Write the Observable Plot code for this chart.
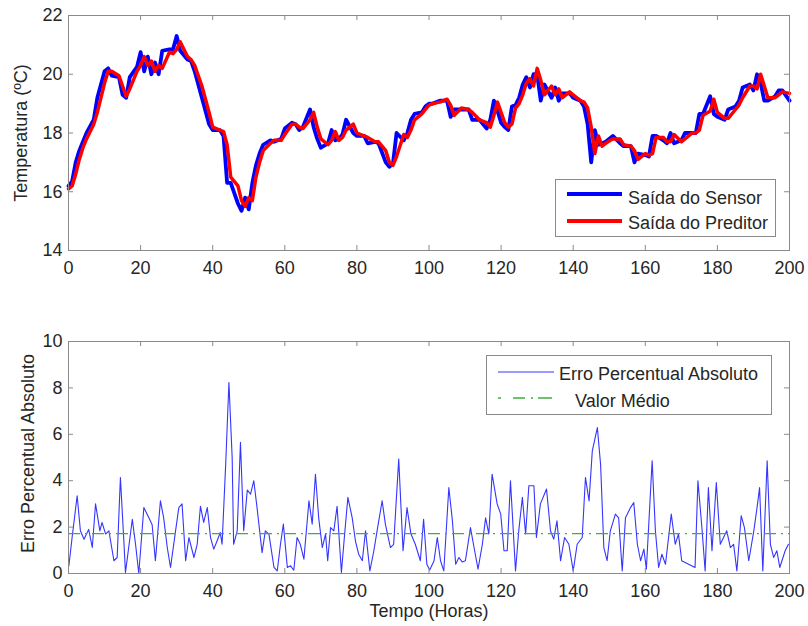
<!DOCTYPE html>
<html>
<head>
<meta charset="utf-8">
<script src="https://cdn.jsdelivr.net/npm/d3@7"></script>
<script src="https://cdn.jsdelivr.net/npm/@observablehq/plot@0.6"></script>
<style>
  html, body { margin: 0; padding: 0; background: #fff; }
  #wrap { position: relative; width: 808px; height: 626px; font-family: "Liberation Sans", Arial, sans-serif; color: #262626; }
  #wrap svg { display: block; }
  .legend { position: absolute; background: #fff; border: 1px solid #8a8a8a; box-sizing: border-box; }
  .legend .txt { position: absolute; font-size: 18px; line-height: 20px; white-space: nowrap; color: #262626; }
  .legend .sw { position: absolute; }
</style>
</head>
<body>
<div id="wrap"></div>
<script>
// ---------------- data ----------------
const sensorHours = [0,1,2,3,4,5,7,8,10,11,12,14,15,16,17,19,20,21,22,23,24,25,26,28,29,30,31,33,34,35,37,39,40,42,43,44,45,47,48,49,50,51,52,53,54,56,57,59,60,62,63,64,65,67,68,69,70,72,73,74,75,76,77,79,80,82,83,85,86,88,89,90,91,93,94,95,96,98,99,100,101,103,105,106,107,109,111,112,114,116,117,118,119,120,121,122,123,124,125,126,127,128,129,130,131,132,134,135,136,137,139,140,142,143,144,145,146,147,148,149,151,153,154,156,157,158,160,161,162,163,165,166,167,168,170,171,173,174,175,176,178,179,180,182,183,185,186,187,189,190,191,192,193,194,196,197,198,200];
const sensorTemp = [16.2,16.35,17.0,17.4,17.7,18.0,18.45,19.2,20.1,20.2,19.95,19.9,19.3,19.2,19.9,20.25,20.75,20.1,20.6,20.0,20.4,20.0,20.8,20.85,20.85,21.3,20.8,20.5,20.45,20.1,19.2,18.3,18.1,18.1,17.9,16.3,16.3,15.6,15.35,15.8,15.4,16.3,16.9,17.3,17.6,17.75,17.7,17.8,18.15,18.35,18.3,18.1,18.2,18.8,18.2,17.8,17.5,17.65,18.1,17.75,17.8,17.95,18.45,18.0,17.9,17.9,17.65,17.7,17.65,17.0,16.85,16.95,18.0,17.75,18.0,18.45,18.65,18.7,18.9,19.0,19.0,19.1,19.1,18.55,18.8,18.8,18.8,18.45,18.45,18.15,18.45,19.1,18.75,18.35,18.2,18.1,18.9,18.95,19.2,19.65,19.9,19.55,20.0,20.0,19.1,19.65,19.2,19.55,19.1,19.35,19.35,19.2,19.1,18.9,18.3,17.0,18.1,17.6,17.65,17.7,17.9,17.65,17.55,17.55,17.0,17.3,17.25,17.2,17.9,17.9,17.75,17.65,18.0,17.65,17.75,18.0,18.0,18.0,18.65,18.65,19.25,18.65,18.55,18.45,18.8,18.9,19.1,19.55,19.65,19.45,20.0,19.7,19.1,19.1,19.25,19.45,19.45,19.1];
const predictorTemp = [16.1,16.2,16.6,17.1,17.5,17.8,18.3,18.7,19.7,20.1,20.1,19.95,19.6,19.25,19.5,20.1,20.3,20.6,20.3,20.45,20.1,20.3,20.2,20.75,20.7,20.85,21.1,20.6,20.5,20.3,19.6,18.7,18.2,18.1,18.05,17.6,16.5,16.2,15.7,15.5,15.8,15.7,16.5,17.0,17.4,17.65,17.75,17.75,17.95,18.3,18.3,18.2,18.15,18.45,18.7,18.2,17.8,17.6,17.75,18.05,17.75,17.85,18.1,18.3,18.0,17.9,17.85,17.7,17.7,17.4,17.0,16.9,17.2,17.95,17.85,18.1,18.45,18.65,18.8,18.95,19.0,19.05,19.15,18.95,18.6,18.85,18.8,18.7,18.45,18.35,18.2,18.6,19.05,18.7,18.35,18.2,18.3,18.85,19.0,19.3,19.7,19.85,19.6,20.2,19.8,19.3,19.6,19.3,19.5,19.2,19.4,19.3,19.1,19.05,18.85,18.2,17.3,17.9,17.55,17.65,17.8,17.8,17.6,17.55,17.4,17.1,17.3,17.25,17.3,17.85,17.85,17.7,17.7,17.95,17.7,17.8,18.0,18.0,18.1,18.6,18.75,19.15,18.7,18.5,18.5,18.8,18.95,19.2,19.6,19.6,19.5,20.0,19.6,19.2,19.2,19.3,19.4,19.35];

const errorHours = [0.1,1,2.4,3.3,4.3,5.2,5.6,6.6,7.5,8.7,9.3,10.3,11.2,12.6,13.5,14.4,15.3,15.8,16.7,17.7,18.6,19.5,20.9,22.3,23.2,24.1,25.5,26.4,27.4,28.3,29.7,30.6,31.5,32.5,33.4,34.8,35.7,36.6,37.5,38.5,39.4,40.3,41.2,42.1,42.6,43.6,44.5,45.4,45.8,46.8,47.7,48.6,49.6,50.5,51.4,52.3,53.7,54.6,55.6,57,57.9,58.8,59.6,60.7,61.6,62.5,63.4,64.3,65.3,66.7,67.6,68.5,69.4,70.4,71.3,71.9,72.7,73.6,74.5,75.7,76.6,77.5,78.7,79.6,80.5,81.5,82.4,83.6,84.7,85.6,87,87.9,89.3,90.2,91.6,92.8,93.9,95,96.2,97.6,98.5,99.4,100.2,101.4,102.3,103.2,104.1,105.5,106.5,107.4,108.3,109.2,110.1,111.5,112.5,113.6,114.8,115.7,116.6,117.5,118.9,119.9,120.8,121.7,122.6,124,124.9,125.9,126.8,127.7,129.1,129.8,130.9,132.6,133.7,134.6,135.5,136.5,137.6,138.8,140,141.1,142.5,143.4,144.4,145.3,146.7,147.6,148.5,149.4,150.3,151.7,152.6,153.6,154.5,155.9,156.8,157.8,158.7,159.6,160.3,161.9,162.8,163.7,164.6,165.6,167.2,168.3,169.2,170.1,172,173.8,174.6,175.7,176.6,177.5,178.5,179.7,180.8,181.7,182.6,183.6,184.5,185.4,186.6,187.5,188.7,190.1,191,191.7,192.6,193.8,194.7,195.6,196.5,197.3,198.8,199.7];
const errorValues = [0.33,1.55,3.35,1.84,1.48,1.77,1.9,1.12,3.0,1.84,2.2,1.7,1.84,0.55,0.69,4.14,1.55,0.04,1.12,2.34,1.26,0,2.84,2.4,2.1,0.55,3.13,2.4,1.12,0.26,1.84,2.84,3.0,0.55,1.55,0.69,1.26,2.9,2.2,2.84,1.55,1.05,1.4,1.77,1.26,4.7,8.23,5.0,1.26,1.84,5.65,1.84,3.6,3.42,4.0,2.84,0.9,1.84,1.7,0.26,0.11,1.26,2.13,0.26,0.33,0.14,1.55,1.26,0.62,3.13,2.13,4.28,2.4,1.12,1.7,0.55,1.98,1.84,2.9,0.04,1.7,3.28,2.4,1.4,0.83,0.55,1.84,0.11,0.98,1.84,3.13,2.13,1.12,1.26,4.93,0.98,2.84,1.7,1.26,0.55,2.34,0.4,0.15,0.55,1.55,0.55,0.11,3.7,2.27,0.4,0.69,0.5,0.55,1.98,1.12,0.19,1.26,2.4,1.7,4.28,3.0,2.56,0.98,0.98,4.0,0.11,1.84,3.28,1.7,3.78,3.78,1.55,3.0,3.64,1.84,1.48,2.27,0.55,1.55,1.26,0.11,1.26,1.55,4.14,3.13,5.29,6.29,4.7,1.12,0.55,1.84,2.56,2.4,0.11,2.4,2.84,3.06,1.26,0.55,1.05,0.19,4.86,1.84,0.26,0.83,0.4,2.56,1.26,1.7,0.55,0.4,0.26,4.0,1.98,0.11,3.7,0.98,3.92,1.26,1.55,1.84,1.12,1.26,0.11,2.49,1.98,0.55,1.84,2.84,3.7,0.11,4.86,1.26,0.69,0.98,0.26,0.98,1.26];
const meanError = 1.72;

const xTicks = [0,20,40,60,80,100,120,140,160,180,200];
const tempTicks = [14,16,18,20,22];
const errorTicks = [0,2,4,6,8,10];

const seriesNames = ["Saída do Sensor", "Saída do Preditor"];
const errorNames = ["Erro Percentual Absoluto", "Valor Médio"];
const yLabelTop = "Temperatura (ºC)";
const yLabelBottom = "Erro Percentual Absoluto";
const xLabel = "Tempo (Horas)";

// ---------------- build ----------------
const sensorRows = sensorHours.map((h, i) => ({h, t: sensorTemp[i]}));
const predRows = sensorHours.map((h, i) => ({h, t: predictorTemp[i]}));
const errRows = errorHours.map((h, i) => ({h, e: errorValues[i]}));

const FONT = "'Liberation Sans', Arial, Helvetica, sans-serif";
const AX = "#8a8a8a";
const TXT = "#262626";
const GREEN = "#3fae3f";
const W = 808, ML = 68, MR = 19;
const PW = W - ML - MR;

function boxTicks(ticksX, ticksY, ph) {
  return [
    Plot.ruleX(ticksX, {stroke: AX, insetTop: ph - 5}),
    Plot.ruleX(ticksX, {stroke: AX, insetBottom: ph - 5}),
    Plot.ruleY(ticksY, {stroke: AX, insetRight: PW - 5}),
    Plot.ruleY(ticksY, {stroke: AX, insetLeft: PW - 5}),
    Plot.frame({stroke: AX}),
    Plot.axisX({ticks: ticksX, tickSize: 0, tickPadding: 11, label: null, fill: TXT}),
    Plot.axisY({ticks: ticksY, tickSize: 0, tickPadding: 6, label: null, fill: TXT})
  ];
}

const topChart = Plot.plot({
  width: W, height: 300,
  marginLeft: ML, marginRight: MR, marginTop: 15, marginBottom: 50,
  x: {domain: [0, 200]},
  y: {domain: [14, 22]},
  style: {fontFamily: FONT, fontSize: "18px", color: TXT, background: "white", overflow: "visible"},
  marks: [
    Plot.line(sensorRows, {x: "h", y: "t", stroke: "#0000ff", strokeWidth: 3.8}),
    Plot.line(predRows, {x: "h", y: "t", stroke: "#ff0000", strokeWidth: 3.5}),
    ...boxTicks(xTicks, tempTicks, 235),
    Plot.text([yLabelTop], {text: d => d, frameAnchor: "left", textAnchor: "middle", lineAnchor: "middle", dx: -47, rotate: -90, fontSize: 18, fill: TXT})
  ]
});

const bottomChart = Plot.plot({
  width: W, height: 326,
  marginLeft: ML, marginRight: MR, marginTop: 41, marginBottom: 53,
  x: {domain: [0, 200]},
  y: {domain: [0, 10]},
  style: {fontFamily: FONT, fontSize: "18px", color: TXT, background: "white", overflow: "visible"},
  marks: [
    Plot.line(errRows, {x: "h", y: "e", stroke: "#3535ff", strokeWidth: 1.1}),
    Plot.ruleY([meanError], {stroke: GREEN, strokeWidth: 1.3, strokeDasharray: "12,5,2,5"}),
    ...boxTicks(xTicks, errorTicks, 232),
    Plot.text([yLabelBottom], {text: d => d, frameAnchor: "left", textAnchor: "middle", lineAnchor: "middle", dx: -40, dy: -4, rotate: -90, fontSize: 18, fill: TXT}),
    Plot.text([xLabel], {text: d => d, frameAnchor: "bottom", textAnchor: "middle", lineAnchor: "middle", dy: 38, fontSize: 18, fill: TXT})
  ]
});

const wrap = document.getElementById("wrap");
wrap.appendChild(topChart);
wrap.appendChild(bottomChart);

function legend(box, rows) {
  const d = document.createElement("div");
  d.className = "legend";
  Object.assign(d.style, {left: box.left + "px", top: box.top + "px", width: box.width + "px", height: box.height + "px"});
  rows.forEach(r => {
    const sw = document.createElementNS("http://www.w3.org/2000/svg", "svg");
    sw.setAttribute("class", "sw");
    sw.setAttribute("width", r.lw);
    sw.setAttribute("height", 6);
    sw.style.left = r.lx + "px";
    sw.style.top = (r.ly - 3) + "px";
    const ln = document.createElementNS("http://www.w3.org/2000/svg", "line");
    ln.setAttribute("x1", 0); ln.setAttribute("x2", r.lw);
    ln.setAttribute("y1", 3); ln.setAttribute("y2", 3);
    ln.setAttribute("stroke", r.color);
    ln.setAttribute("stroke-width", r.sw);
    if (r.dash) ln.setAttribute("stroke-dasharray", r.dash);
    sw.appendChild(ln);
    d.appendChild(sw);
    const t = document.createElement("span");
    t.className = "txt";
    t.textContent = r.name;
    t.style.left = r.tx + "px";
    t.style.top = (r.ty - 10) + "px";
    d.appendChild(t);
  });
  wrap.appendChild(d);
}

legend({left: 555, top: 179, width: 221, height: 58}, [
  {name: seriesNames[0], color: "#0000ff", sw: 4, lx: 11, lw: 55, ly: 13.5, tx: 72, ty: 18},
  {name: seriesNames[1], color: "#ff0000", sw: 4, lx: 11, lw: 55, ly: 41, tx: 72, ty: 43}
]);
legend({left: 486, top: 355, width: 286, height: 60}, [
  {name: errorNames[0], color: "#3535ff", sw: 1, lx: 11, lw: 56, ly: 15.5, tx: 72, ty: 18},
  {name: errorNames[1], color: GREEN, sw: 1.5, lx: 11, lw: 56, ly: 42, dash: "3,12,12,6,2,5,14", tx: 88, ty: 45}
]);
</script>
</body>
</html>
